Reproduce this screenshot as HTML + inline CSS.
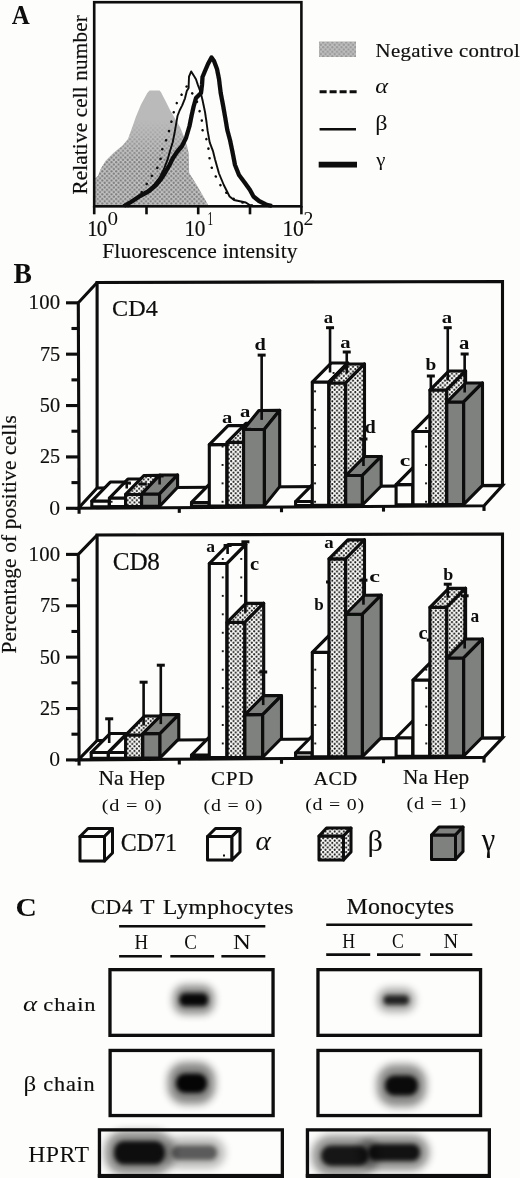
<!DOCTYPE html>
<html><head><meta charset="utf-8"><title>Figure</title>
<style>html,body{margin:0;padding:0;background:#fdfdfb;width:520px;height:1178px;overflow:hidden}svg{display:block}
text{font-family:"Liberation Serif",serif}</style></head>
<body><svg width="520" height="1178" viewBox="0 0 520 1178"><rect x="0" y="0" width="520" height="1178" fill="#fdfdfb"/>
<defs>
<pattern id="stip" patternUnits="userSpaceOnUse" width="4.6" height="4.6">
  <rect width="4.6" height="4.6" fill="#fdfdfb"/>
  <circle cx="1.15" cy="1.15" r="1.05" fill="#111"/>
  <circle cx="3.45" cy="3.45" r="1.05" fill="#111"/>
</pattern>
<pattern id="gstip" patternUnits="userSpaceOnUse" width="4.6" height="4.6">
  <rect width="4.6" height="4.6" fill="#c2c2c2"/>
  <circle cx="1.15" cy="1.15" r="1.1" fill="#7c7c7c"/>
  <circle cx="3.45" cy="3.45" r="1.1" fill="#7c7c7c"/>
</pattern>
<pattern id="sparse4" patternUnits="userSpaceOnUse" x="221.6" y="482.4" width="18.5" height="18.4">
  <rect width="18.5" height="18.4" fill="#fdfdfb"/>
  <rect x="0" y="0" width="1.9" height="1.9" fill="#111"/>
</pattern>
<pattern id="sparse8" patternUnits="userSpaceOnUse" x="221.8" y="742.5" width="18.5" height="18.45">
  <rect width="18.5" height="18.45" fill="#fdfdfb"/>
  <rect x="0" y="0" width="1.9" height="1.9" fill="#111"/>
</pattern>
<linearGradient id="stfade" x1="0" y1="0" x2="0" y2="1">
  <stop offset="0" stop-color="#fff" stop-opacity="0"/>
  <stop offset="1" stop-color="#fff" stop-opacity="1"/>
</linearGradient>
<mask id="stmask" maskUnits="userSpaceOnUse" x="0" y="0" width="520" height="260">
  <rect x="0" y="120" width="320" height="40" fill="url(#stfade)"/>
  <rect x="0" y="160" width="320" height="60" fill="#fff"/>
</mask>
<filter id="blur3" x="-50%" y="-80%" width="200%" height="260%"><feGaussianBlur stdDeviation="3"/></filter>
<filter id="blur4" x="-50%" y="-80%" width="200%" height="260%"><feGaussianBlur stdDeviation="4"/></filter>
<filter id="bc" x="-50%" y="-80%" width="200%" height="260%"><feGaussianBlur stdDeviation="2.3"/></filter>
<filter id="bh" x="-50%" y="-80%" width="200%" height="260%"><feGaussianBlur stdDeviation="4.5"/></filter>
<filter id="blur2" x="-50%" y="-80%" width="200%" height="260%"><feGaussianBlur stdDeviation="2"/></filter>
<filter id="gb" x="0" y="0" width="520" height="1178" filterUnits="userSpaceOnUse"><feGaussianBlur stdDeviation="0.4"/></filter></defs><g filter="url(#gb)">
<path d="M95.40,205.20 L95.40,178.00 L98.00,176.00 L101.00,168.50 L105.80,160.80 L113.50,153.00 L122.70,145.40 L128.00,139.00 L132.00,128.00 L135.80,117.00 L141.00,104.60 L147.30,93.00 L149.60,90.50 L159.60,90.50 L161.00,92.30 L165.80,101.50 L170.40,110.80 L175.00,118.50 L180.00,127.00 L184.00,137.00 L187.00,146.00 L188.60,153.00 L189.10,173.00 L196.00,184.00 L203.00,196.00 L208.20,205.20 Z" fill="#bababa"/>
<path d="M95.40,205.20 L95.40,178.00 L98.00,176.00 L101.00,168.50 L105.80,160.80 L113.50,153.00 L122.70,145.40 L128.00,139.00 L132.00,128.00 L135.80,117.00 L141.00,104.60 L147.30,93.00 L149.60,90.50 L159.60,90.50 L161.00,92.30 L165.80,101.50 L170.40,110.80 L175.00,118.50 L180.00,127.00 L184.00,137.00 L187.00,146.00 L188.60,153.00 L189.10,173.00 L196.00,184.00 L203.00,196.00 L208.20,205.20 Z" fill="url(#gstip)" mask="url(#stmask)"/>
<path d="M128.00,206.00 L136.00,198.00 L143.50,190.40 L148.70,180.00 L154.00,173.00 L158.50,166.00 L160.80,158.00 L162.00,150.00 L165.00,143.00 L167.40,137.00 L170.00,127.50 L172.40,118.00 L174.80,108.00 L178.50,99.00 L182.10,94.00 L184.30,89.20 L187.00,86.00 L190.00,90.00 L194.00,96.00 L197.50,103.00 L199.40,110.40 L201.80,120.10 L202.50,130.00 L206.60,139.70 L208.50,149.00 L209.60,158.70 L211.90,168.30 L216.50,178.00 L221.50,187.00 L229.60,196.50 L236.50,200.50 L244.00,203.00 L252.00,205.50" fill="none" stroke="#0b0b0b" stroke-width="2.5" stroke-linecap="round" stroke-dasharray="0.1 9.6"/>
<path d="M122.00,206.00 L134.00,200.00 L146.00,192.00 L153.00,186.00 L159.60,177.70 L164.20,168.50 L167.70,159.20 L170.00,151.00 L172.70,142.30 L174.80,131.70 L175.90,125.40 L177.50,116.00 L179.60,110.50 L182.20,105.30 L185.00,98.30 L186.80,91.00 L188.60,87.90 L189.00,76.60 L191.20,71.40 L193.40,74.90 L196.00,79.20 L197.70,84.40 L200.50,92.00 L202.50,100.00 L205.00,112.00 L206.50,122.00 L207.60,130.70 L209.70,142.30 L212.90,150.80 L215.00,159.30 L219.00,173.50 L223.80,185.00 L229.60,196.50 L234.00,200.00 L245.80,202.50 L249.00,204.60 L253.00,206.00" fill="none" stroke="#0b0b0b" stroke-width="1.9" stroke-linejoin="round"/>
<path d="M124.00,206.00 L131.00,202.00 L140.00,196.00 L149.00,191.00 L156.00,185.00 L161.00,179.00 L165.50,172.00 L169.50,165.00 L173.00,158.00 L177.00,152.00 L182.00,146.00 L186.00,138.00 L189.50,126.00 L191.50,116.00 L193.50,107.00 L196.00,98.00 L201.00,93.00 L202.00,85.00 L202.50,77.00 L205.00,71.00 L208.00,64.00 L211.50,57.50 L214.00,61.00 L217.00,69.00 L219.00,79.00 L220.70,93.00 L223.00,105.00 L225.30,118.00 L227.30,130.00 L230.00,140.00 L232.50,152.00 L235.00,165.00 L239.00,175.00 L245.00,183.00 L250.00,190.00 L253.50,196.50 L259.00,201.00 L266.00,204.50 L272.00,206.00" fill="none" stroke="#0b0b0b" stroke-width="4.3" stroke-linejoin="round"/>
<rect x="94.2" y="2.2" width="207.2" height="204.1" fill="none" stroke="#0b0b0b" stroke-width="2.6"/>
<line x1="94.2" y1="206" x2="94.2" y2="214.3" stroke="#0b0b0b" stroke-width="2.6"/>
<line x1="146.5" y1="206" x2="146.5" y2="214.3" stroke="#0b0b0b" stroke-width="2.6"/>
<line x1="198.2" y1="206" x2="198.2" y2="214.3" stroke="#0b0b0b" stroke-width="2.6"/>
<line x1="250" y1="206" x2="250" y2="214.3" stroke="#0b0b0b" stroke-width="2.6"/>
<line x1="301.4" y1="206" x2="301.4" y2="214.3" stroke="#0b0b0b" stroke-width="2.6"/>
<rect x="319" y="41.6" width="37" height="15.4" fill="#b8b8b8"/>
<rect x="319" y="41.6" width="37" height="15.4" fill="url(#gstip)" opacity="0.55"/>
<line x1="319.6" y1="91.8" x2="357" y2="91.8" stroke="#0b0b0b" stroke-width="3" stroke-dasharray="7 3"/>
<line x1="319.6" y1="129.2" x2="356" y2="129.2" stroke="#0b0b0b" stroke-width="2.4"/>
<line x1="318.7" y1="164.6" x2="357" y2="164.6" stroke="#0b0b0b" stroke-width="5.6"/>
<path d="M78.30,508.30 L78.30,302.80 L97.10,282.50 L502.50,281.53 L502.50,485.44 L484.00,505.74 L78.30,508.30 Z" fill="#fdfdfb" stroke="none"/>
<path d="M97.10,488.00 L97.10,282.50 L502.50,281.53 L502.50,485.44" fill="none" stroke="#0b0b0b" stroke-width="3.1" stroke-linejoin="miter"/>
<path d="M78.30,508.30 L97.10,488.00 L502.50,485.44 L484.00,505.74 Z" fill="none" stroke="#0b0b0b" stroke-width="3.1" stroke-linejoin="miter"/>
<path d="M79.10,513.80 L78.30,302.80 L97.10,282.50" fill="none" stroke="#0b0b0b" stroke-width="3.1" stroke-linejoin="miter"/>
<line x1="66" y1="508.30" x2="78.3" y2="508.30" stroke="#0b0b0b" stroke-width="3.1"/>
<line x1="66" y1="456.93" x2="78.3" y2="456.93" stroke="#0b0b0b" stroke-width="3.1"/>
<line x1="66" y1="405.55" x2="78.3" y2="405.55" stroke="#0b0b0b" stroke-width="3.1"/>
<line x1="66" y1="354.18" x2="78.3" y2="354.18" stroke="#0b0b0b" stroke-width="3.1"/>
<line x1="66" y1="302.80" x2="78.3" y2="302.80" stroke="#0b0b0b" stroke-width="3.1"/>
<line x1="71.5" y1="482.61" x2="78.3" y2="482.61" stroke="#0b0b0b" stroke-width="3.1"/>
<line x1="71.5" y1="431.24" x2="78.3" y2="431.24" stroke="#0b0b0b" stroke-width="3.1"/>
<line x1="71.5" y1="379.86" x2="78.3" y2="379.86" stroke="#0b0b0b" stroke-width="3.1"/>
<line x1="71.5" y1="328.49" x2="78.3" y2="328.49" stroke="#0b0b0b" stroke-width="3.1"/>
<line x1="179.3" y1="507.66" x2="179.3" y2="512.86" stroke="#0b0b0b" stroke-width="3.1"/>
<line x1="281.5" y1="507.02" x2="281.5" y2="512.22" stroke="#0b0b0b" stroke-width="3.1"/>
<line x1="383.5" y1="506.38" x2="383.5" y2="511.58" stroke="#0b0b0b" stroke-width="3.1"/>
<line x1="484.0" y1="505.74" x2="484.0" y2="510.94" stroke="#0b0b0b" stroke-width="3.1"/>
<path d="M91.80,506.71 L91.80,501.06 L109.40,500.94 L109.40,506.60 Z" fill="#fdfdfb" stroke="#0b0b0b" stroke-width="3.1" stroke-linejoin="round"/>
<path d="M91.80,501.06 L110.30,482.06 L127.90,481.94 L109.40,500.94 Z" fill="#fdfdfb" stroke="#0b0b0b" stroke-width="3.1" stroke-linejoin="round"/>
<path d="M109.40,506.60 L109.40,500.94 L127.90,481.94 L127.90,487.60 Z" fill="#fdfdfb" stroke="#0b0b0b" stroke-width="3.1" stroke-linejoin="round"/>
<path d="M109.40,506.60 L109.40,498.05 L125.60,497.95 L125.60,506.50 Z" fill="url(#sparse4)" stroke="#0b0b0b" stroke-width="3.1" stroke-linejoin="round"/>
<path d="M109.40,498.05 L127.90,479.05 L144.10,478.95 L125.60,497.95 Z" fill="url(#sparse4)" stroke="#0b0b0b" stroke-width="3.1" stroke-linejoin="round"/>
<path d="M125.60,506.50 L125.60,497.95 L144.10,478.95 L144.10,487.50 Z" fill="url(#sparse4)" stroke="#0b0b0b" stroke-width="3.1" stroke-linejoin="round"/>
<line x1="126.75" y1="488.50" x2="126.75" y2="483.00" stroke="#0b0b0b" stroke-width="2.6"/>
<line x1="122.75" y1="483.00" x2="130.75" y2="483.00" stroke="#0b0b0b" stroke-width="3"/>
<path d="M125.60,506.50 L125.60,494.45 L141.60,494.35 L141.60,506.40 Z" fill="url(#stip)" stroke="#0b0b0b" stroke-width="3.1" stroke-linejoin="round"/>
<path d="M125.60,494.45 L144.10,475.45 L160.10,475.35 L141.60,494.35 Z" fill="url(#stip)" stroke="#0b0b0b" stroke-width="3.1" stroke-linejoin="round"/>
<path d="M141.60,506.40 L141.60,494.35 L160.10,475.35 L160.10,487.40 Z" fill="url(#stip)" stroke="#0b0b0b" stroke-width="3.1" stroke-linejoin="round"/>
<line x1="142.85" y1="484.90" x2="142.85" y2="484.00" stroke="#0b0b0b" stroke-width="2.6"/>
<line x1="138.85" y1="484.00" x2="146.85" y2="484.00" stroke="#0b0b0b" stroke-width="3"/>
<path d="M141.60,506.40 L141.60,494.06 L159.60,493.94 L159.60,506.29 Z" fill="#7f817f" stroke="#0b0b0b" stroke-width="3.1" stroke-linejoin="round"/>
<path d="M141.60,494.06 L159.60,475.06 L177.60,474.94 L159.60,493.94 Z" fill="#7f817f" stroke="#0b0b0b" stroke-width="3.1" stroke-linejoin="round"/>
<path d="M159.60,506.29 L159.60,493.94 L177.60,474.94 L177.60,487.29 Z" fill="#7f817f" stroke="#0b0b0b" stroke-width="3.1" stroke-linejoin="round"/>
<line x1="159.60" y1="484.50" x2="159.60" y2="476.00" stroke="#0b0b0b" stroke-width="2.6"/>
<line x1="155.60" y1="476.00" x2="163.60" y2="476.00" stroke="#0b0b0b" stroke-width="3"/>
<path d="M191.50,506.08 L191.50,502.46 L209.30,502.34 L209.30,505.97 Z" fill="#fdfdfb" stroke="#0b0b0b" stroke-width="3.1" stroke-linejoin="round"/>
<path d="M191.50,502.46 L210.30,483.46 L228.10,483.34 L209.30,502.34 Z" fill="#fdfdfb" stroke="#0b0b0b" stroke-width="3.1" stroke-linejoin="round"/>
<path d="M209.30,505.97 L209.30,502.34 L228.10,483.34 L228.10,486.97 Z" fill="#fdfdfb" stroke="#0b0b0b" stroke-width="3.1" stroke-linejoin="round"/>
<path d="M209.30,505.97 L209.30,444.66 L227.10,444.54 L227.10,505.86 Z" fill="url(#sparse4)" stroke="#0b0b0b" stroke-width="3.1" stroke-linejoin="round"/>
<path d="M209.30,444.66 L228.10,425.66 L245.90,425.54 L227.10,444.54 Z" fill="url(#sparse4)" stroke="#0b0b0b" stroke-width="3.1" stroke-linejoin="round"/>
<path d="M227.10,505.86 L227.10,444.54 L245.90,425.54 L245.90,486.86 Z" fill="url(#sparse4)" stroke="#0b0b0b" stroke-width="3.1" stroke-linejoin="round"/>
<path d="M227.10,505.86 L227.10,442.36 L244.90,442.24 L244.90,505.75 Z" fill="url(#stip)" stroke="#0b0b0b" stroke-width="3.1" stroke-linejoin="round"/>
<path d="M227.10,442.36 L245.90,423.36 L263.70,423.24 L244.90,442.24 Z" fill="url(#stip)" stroke="#0b0b0b" stroke-width="3.1" stroke-linejoin="round"/>
<path d="M244.90,505.75 L244.90,442.24 L263.70,423.24 L263.70,486.75 Z" fill="url(#stip)" stroke="#0b0b0b" stroke-width="3.1" stroke-linejoin="round"/>
<path d="M243.60,505.76 L243.60,429.47 L264.40,429.33 L264.40,505.63 Z" fill="#7f817f" stroke="#0b0b0b" stroke-width="3.1" stroke-linejoin="round"/>
<path d="M243.60,429.47 L258.90,410.47 L279.70,410.33 L264.40,429.33 Z" fill="#7f817f" stroke="#0b0b0b" stroke-width="3.1" stroke-linejoin="round"/>
<path d="M264.40,505.63 L264.40,429.33 L279.70,410.33 L279.70,486.63 Z" fill="#7f817f" stroke="#0b0b0b" stroke-width="3.1" stroke-linejoin="round"/>
<line x1="261.65" y1="419.90" x2="261.65" y2="355.10" stroke="#0b0b0b" stroke-width="2.6"/>
<line x1="257.65" y1="355.10" x2="265.65" y2="355.10" stroke="#0b0b0b" stroke-width="3"/>
<path d="M295.60,505.43 L295.60,501.55 L312.30,501.45 L312.30,505.32 Z" fill="#fdfdfb" stroke="#0b0b0b" stroke-width="3.1" stroke-linejoin="round"/>
<path d="M295.60,501.55 L314.40,482.55 L331.10,482.45 L312.30,501.45 Z" fill="#fdfdfb" stroke="#0b0b0b" stroke-width="3.1" stroke-linejoin="round"/>
<path d="M312.30,505.32 L312.30,501.45 L331.10,482.45 L331.10,486.32 Z" fill="#fdfdfb" stroke="#0b0b0b" stroke-width="3.1" stroke-linejoin="round"/>
<path d="M312.30,505.32 L312.30,382.05 L329.00,381.95 L329.00,505.22 Z" fill="url(#sparse4)" stroke="#0b0b0b" stroke-width="3.1" stroke-linejoin="round"/>
<path d="M312.30,382.05 L331.10,363.05 L347.80,362.95 L329.00,381.95 Z" fill="url(#sparse4)" stroke="#0b0b0b" stroke-width="3.1" stroke-linejoin="round"/>
<path d="M329.00,505.22 L329.00,381.95 L347.80,362.95 L347.80,486.22 Z" fill="url(#sparse4)" stroke="#0b0b0b" stroke-width="3.1" stroke-linejoin="round"/>
<line x1="330.05" y1="372.50" x2="330.05" y2="327.70" stroke="#0b0b0b" stroke-width="2.6"/>
<line x1="326.05" y1="327.70" x2="334.05" y2="327.70" stroke="#0b0b0b" stroke-width="3"/>
<path d="M329.00,505.22 L329.00,383.05 L345.70,382.95 L345.70,505.11 Z" fill="url(#stip)" stroke="#0b0b0b" stroke-width="3.1" stroke-linejoin="round"/>
<path d="M329.00,383.05 L347.80,364.05 L364.50,363.95 L345.70,382.95 Z" fill="url(#stip)" stroke="#0b0b0b" stroke-width="3.1" stroke-linejoin="round"/>
<path d="M345.70,505.11 L345.70,382.95 L364.50,363.95 L364.50,486.11 Z" fill="url(#stip)" stroke="#0b0b0b" stroke-width="3.1" stroke-linejoin="round"/>
<line x1="346.75" y1="373.50" x2="346.75" y2="352.00" stroke="#0b0b0b" stroke-width="2.6"/>
<line x1="342.75" y1="352.00" x2="350.75" y2="352.00" stroke="#0b0b0b" stroke-width="3"/>
<path d="M345.70,505.11 L345.70,475.55 L362.40,475.45 L362.40,505.01 Z" fill="#7f817f" stroke="#0b0b0b" stroke-width="3.1" stroke-linejoin="round"/>
<path d="M345.70,475.55 L364.50,456.55 L381.20,456.45 L362.40,475.45 Z" fill="#7f817f" stroke="#0b0b0b" stroke-width="3.1" stroke-linejoin="round"/>
<path d="M362.40,505.01 L362.40,475.45 L381.20,456.45 L381.20,486.01 Z" fill="#7f817f" stroke="#0b0b0b" stroke-width="3.1" stroke-linejoin="round"/>
<line x1="363.45" y1="466.00" x2="363.45" y2="439.00" stroke="#0b0b0b" stroke-width="2.6"/>
<line x1="359.45" y1="439.00" x2="367.45" y2="439.00" stroke="#0b0b0b" stroke-width="3"/>
<path d="M396.10,504.80 L396.10,484.65 L413.00,484.55 L413.00,504.69 Z" fill="#fdfdfb" stroke="#0b0b0b" stroke-width="3.1" stroke-linejoin="round"/>
<path d="M396.10,484.65 L414.90,465.65 L431.80,465.55 L413.00,484.55 Z" fill="#fdfdfb" stroke="#0b0b0b" stroke-width="3.1" stroke-linejoin="round"/>
<path d="M413.00,504.69 L413.00,484.55 L431.80,465.55 L431.80,485.69 Z" fill="#fdfdfb" stroke="#0b0b0b" stroke-width="3.1" stroke-linejoin="round"/>
<path d="M413.00,504.69 L413.00,431.55 L429.90,431.45 L429.90,504.58 Z" fill="url(#sparse4)" stroke="#0b0b0b" stroke-width="3.1" stroke-linejoin="round"/>
<path d="M413.00,431.55 L431.80,412.55 L448.70,412.45 L429.90,431.45 Z" fill="url(#sparse4)" stroke="#0b0b0b" stroke-width="3.1" stroke-linejoin="round"/>
<path d="M429.90,504.58 L429.90,431.45 L448.70,412.45 L448.70,485.58 Z" fill="url(#sparse4)" stroke="#0b0b0b" stroke-width="3.1" stroke-linejoin="round"/>
<line x1="430.85" y1="422.00" x2="430.85" y2="376.00" stroke="#0b0b0b" stroke-width="2.6"/>
<line x1="426.85" y1="376.00" x2="434.85" y2="376.00" stroke="#0b0b0b" stroke-width="3"/>
<path d="M429.90,504.58 L429.90,390.05 L446.80,389.95 L446.80,504.48 Z" fill="url(#stip)" stroke="#0b0b0b" stroke-width="3.1" stroke-linejoin="round"/>
<path d="M429.90,390.05 L448.70,371.05 L465.60,370.95 L446.80,389.95 Z" fill="url(#stip)" stroke="#0b0b0b" stroke-width="3.1" stroke-linejoin="round"/>
<path d="M446.80,504.48 L446.80,389.95 L465.60,370.95 L465.60,485.48 Z" fill="url(#stip)" stroke="#0b0b0b" stroke-width="3.1" stroke-linejoin="round"/>
<line x1="447.75" y1="380.50" x2="447.75" y2="327.70" stroke="#0b0b0b" stroke-width="2.6"/>
<line x1="443.75" y1="327.70" x2="451.75" y2="327.70" stroke="#0b0b0b" stroke-width="3"/>
<path d="M446.80,504.48 L446.80,402.05 L463.70,401.95 L463.70,504.37 Z" fill="#7f817f" stroke="#0b0b0b" stroke-width="3.1" stroke-linejoin="round"/>
<path d="M446.80,402.05 L465.60,383.05 L482.50,382.95 L463.70,401.95 Z" fill="#7f817f" stroke="#0b0b0b" stroke-width="3.1" stroke-linejoin="round"/>
<path d="M463.70,504.37 L463.70,401.95 L482.50,382.95 L482.50,485.37 Z" fill="#7f817f" stroke="#0b0b0b" stroke-width="3.1" stroke-linejoin="round"/>
<line x1="464.65" y1="392.50" x2="464.65" y2="354.00" stroke="#0b0b0b" stroke-width="2.6"/>
<line x1="460.65" y1="354.00" x2="468.65" y2="354.00" stroke="#0b0b0b" stroke-width="3"/>
<path d="M78.30,759.90 L78.30,554.40 L97.10,535.00 L502.50,534.03 L502.50,737.94 L484.00,757.34 L78.30,759.90 Z" fill="#fdfdfb" stroke="none"/>
<path d="M97.10,740.50 L97.10,535.00 L502.50,534.03 L502.50,737.94" fill="none" stroke="#0b0b0b" stroke-width="3.1" stroke-linejoin="miter"/>
<path d="M78.30,759.90 L97.10,740.50 L502.50,737.94 L484.00,757.34 Z" fill="none" stroke="#0b0b0b" stroke-width="3.1" stroke-linejoin="miter"/>
<path d="M79.10,765.40 L78.30,554.40 L97.10,535.00" fill="none" stroke="#0b0b0b" stroke-width="3.1" stroke-linejoin="miter"/>
<line x1="66" y1="759.90" x2="78.3" y2="759.90" stroke="#0b0b0b" stroke-width="3.1"/>
<line x1="66" y1="708.52" x2="78.3" y2="708.52" stroke="#0b0b0b" stroke-width="3.1"/>
<line x1="66" y1="657.15" x2="78.3" y2="657.15" stroke="#0b0b0b" stroke-width="3.1"/>
<line x1="66" y1="605.77" x2="78.3" y2="605.77" stroke="#0b0b0b" stroke-width="3.1"/>
<line x1="66" y1="554.40" x2="78.3" y2="554.40" stroke="#0b0b0b" stroke-width="3.1"/>
<line x1="71.5" y1="734.21" x2="78.3" y2="734.21" stroke="#0b0b0b" stroke-width="3.1"/>
<line x1="71.5" y1="682.84" x2="78.3" y2="682.84" stroke="#0b0b0b" stroke-width="3.1"/>
<line x1="71.5" y1="631.46" x2="78.3" y2="631.46" stroke="#0b0b0b" stroke-width="3.1"/>
<line x1="71.5" y1="580.09" x2="78.3" y2="580.09" stroke="#0b0b0b" stroke-width="3.1"/>
<line x1="179.3" y1="759.26" x2="179.3" y2="764.46" stroke="#0b0b0b" stroke-width="3.1"/>
<line x1="281.5" y1="758.62" x2="281.5" y2="763.82" stroke="#0b0b0b" stroke-width="3.1"/>
<line x1="383.5" y1="757.98" x2="383.5" y2="763.18" stroke="#0b0b0b" stroke-width="3.1"/>
<line x1="484.0" y1="757.34" x2="484.0" y2="762.54" stroke="#0b0b0b" stroke-width="3.1"/>
<path d="M91.20,758.32 L91.20,752.55 L108.40,752.45 L108.40,758.21 Z" fill="#fdfdfb" stroke="#0b0b0b" stroke-width="3.1" stroke-linejoin="round"/>
<path d="M91.20,752.55 L110.00,733.55 L127.20,733.45 L108.40,752.45 Z" fill="#fdfdfb" stroke="#0b0b0b" stroke-width="3.1" stroke-linejoin="round"/>
<path d="M108.40,758.21 L108.40,752.45 L127.20,733.45 L127.20,739.21 Z" fill="#fdfdfb" stroke="#0b0b0b" stroke-width="3.1" stroke-linejoin="round"/>
<line x1="109.20" y1="743.00" x2="109.20" y2="718.80" stroke="#0b0b0b" stroke-width="2.6"/>
<line x1="105.20" y1="718.80" x2="113.20" y2="718.80" stroke="#0b0b0b" stroke-width="3"/>
<path d="M108.40,758.21 L108.40,752.55 L125.60,752.45 L125.60,758.10 Z" fill="url(#sparse8)" stroke="#0b0b0b" stroke-width="3.1" stroke-linejoin="round"/>
<path d="M108.40,752.55 L127.20,733.55 L144.40,733.45 L125.60,752.45 Z" fill="url(#sparse8)" stroke="#0b0b0b" stroke-width="3.1" stroke-linejoin="round"/>
<path d="M125.60,758.10 L125.60,752.45 L144.40,733.45 L144.40,739.10 Z" fill="url(#sparse8)" stroke="#0b0b0b" stroke-width="3.1" stroke-linejoin="round"/>
<path d="M125.60,758.10 L125.60,735.05 L142.80,734.95 L142.80,757.99 Z" fill="url(#stip)" stroke="#0b0b0b" stroke-width="3.1" stroke-linejoin="round"/>
<path d="M125.60,735.05 L144.40,716.05 L161.60,715.95 L142.80,734.95 Z" fill="url(#stip)" stroke="#0b0b0b" stroke-width="3.1" stroke-linejoin="round"/>
<path d="M142.80,757.99 L142.80,734.95 L161.60,715.95 L161.60,738.99 Z" fill="url(#stip)" stroke="#0b0b0b" stroke-width="3.1" stroke-linejoin="round"/>
<line x1="143.60" y1="725.50" x2="143.60" y2="682.20" stroke="#0b0b0b" stroke-width="2.6"/>
<line x1="139.60" y1="682.20" x2="147.60" y2="682.20" stroke="#0b0b0b" stroke-width="3"/>
<path d="M142.80,757.99 L142.80,733.65 L160.00,733.55 L160.00,757.88 Z" fill="#7f817f" stroke="#0b0b0b" stroke-width="3.1" stroke-linejoin="round"/>
<path d="M142.80,733.65 L161.60,714.65 L178.80,714.55 L160.00,733.55 Z" fill="#7f817f" stroke="#0b0b0b" stroke-width="3.1" stroke-linejoin="round"/>
<path d="M160.00,757.88 L160.00,733.55 L178.80,714.55 L178.80,738.88 Z" fill="#7f817f" stroke="#0b0b0b" stroke-width="3.1" stroke-linejoin="round"/>
<line x1="160.80" y1="724.10" x2="160.80" y2="665.20" stroke="#0b0b0b" stroke-width="2.6"/>
<line x1="156.80" y1="665.20" x2="164.80" y2="665.20" stroke="#0b0b0b" stroke-width="3"/>
<path d="M191.50,757.68 L191.50,755.06 L209.30,754.94 L209.30,757.57 Z" fill="#fdfdfb" stroke="#0b0b0b" stroke-width="3.1" stroke-linejoin="round"/>
<path d="M191.50,755.06 L210.30,736.06 L228.10,735.94 L209.30,754.94 Z" fill="#fdfdfb" stroke="#0b0b0b" stroke-width="3.1" stroke-linejoin="round"/>
<path d="M209.30,757.57 L209.30,754.94 L228.10,735.94 L228.10,738.57 Z" fill="#fdfdfb" stroke="#0b0b0b" stroke-width="3.1" stroke-linejoin="round"/>
<path d="M209.30,757.57 L209.30,563.56 L227.10,563.44 L227.10,757.46 Z" fill="url(#sparse8)" stroke="#0b0b0b" stroke-width="3.1" stroke-linejoin="round"/>
<path d="M209.30,563.56 L228.10,544.56 L245.90,544.44 L227.10,563.44 Z" fill="url(#sparse8)" stroke="#0b0b0b" stroke-width="3.1" stroke-linejoin="round"/>
<path d="M227.10,757.46 L227.10,563.44 L245.90,544.44 L245.90,738.46 Z" fill="url(#sparse8)" stroke="#0b0b0b" stroke-width="3.1" stroke-linejoin="round"/>
<line x1="227.60" y1="554.00" x2="227.60" y2="545.50" stroke="#0b0b0b" stroke-width="2.6"/>
<line x1="223.60" y1="545.50" x2="231.60" y2="545.50" stroke="#0b0b0b" stroke-width="3"/>
<path d="M227.10,757.46 L227.10,622.36 L244.90,622.24 L244.90,757.35 Z" fill="url(#stip)" stroke="#0b0b0b" stroke-width="3.1" stroke-linejoin="round"/>
<path d="M227.10,622.36 L245.90,603.36 L263.70,603.24 L244.90,622.24 Z" fill="url(#stip)" stroke="#0b0b0b" stroke-width="3.1" stroke-linejoin="round"/>
<path d="M244.90,757.35 L244.90,622.24 L263.70,603.24 L263.70,738.35 Z" fill="url(#stip)" stroke="#0b0b0b" stroke-width="3.1" stroke-linejoin="round"/>
<line x1="245.40" y1="612.80" x2="245.40" y2="541.80" stroke="#0b0b0b" stroke-width="2.6"/>
<line x1="241.40" y1="541.80" x2="249.40" y2="541.80" stroke="#0b0b0b" stroke-width="3"/>
<path d="M244.90,757.35 L244.90,714.66 L262.70,714.54 L262.70,757.24 Z" fill="#7f817f" stroke="#0b0b0b" stroke-width="3.1" stroke-linejoin="round"/>
<path d="M244.90,714.66 L263.70,695.66 L281.50,695.54 L262.70,714.54 Z" fill="#7f817f" stroke="#0b0b0b" stroke-width="3.1" stroke-linejoin="round"/>
<path d="M262.70,757.24 L262.70,714.54 L281.50,695.54 L281.50,738.24 Z" fill="#7f817f" stroke="#0b0b0b" stroke-width="3.1" stroke-linejoin="round"/>
<line x1="263.20" y1="705.10" x2="263.20" y2="672.00" stroke="#0b0b0b" stroke-width="2.6"/>
<line x1="259.20" y1="672.00" x2="267.20" y2="672.00" stroke="#0b0b0b" stroke-width="3"/>
<path d="M295.60,757.03 L295.60,752.75 L312.30,752.65 L312.30,756.92 Z" fill="#fdfdfb" stroke="#0b0b0b" stroke-width="3.1" stroke-linejoin="round"/>
<path d="M295.60,752.75 L314.40,733.75 L331.10,733.65 L312.30,752.65 Z" fill="#fdfdfb" stroke="#0b0b0b" stroke-width="3.1" stroke-linejoin="round"/>
<path d="M312.30,756.92 L312.30,752.65 L331.10,733.65 L331.10,737.92 Z" fill="#fdfdfb" stroke="#0b0b0b" stroke-width="3.1" stroke-linejoin="round"/>
<path d="M312.30,756.92 L312.30,652.35 L329.00,652.25 L329.00,756.82 Z" fill="url(#sparse8)" stroke="#0b0b0b" stroke-width="3.1" stroke-linejoin="round"/>
<path d="M312.30,652.35 L331.10,633.35 L347.80,633.25 L329.00,652.25 Z" fill="url(#sparse8)" stroke="#0b0b0b" stroke-width="3.1" stroke-linejoin="round"/>
<path d="M329.00,756.82 L329.00,652.25 L347.80,633.25 L347.80,737.82 Z" fill="url(#sparse8)" stroke="#0b0b0b" stroke-width="3.1" stroke-linejoin="round"/>
<line x1="330.05" y1="642.80" x2="330.05" y2="582.00" stroke="#0b0b0b" stroke-width="2.6"/>
<line x1="326.05" y1="582.00" x2="334.05" y2="582.00" stroke="#0b0b0b" stroke-width="3"/>
<path d="M329.00,756.82 L329.00,558.85 L345.70,558.75 L345.70,756.71 Z" fill="url(#stip)" stroke="#0b0b0b" stroke-width="3.1" stroke-linejoin="round"/>
<path d="M329.00,558.85 L347.80,539.85 L364.50,539.75 L345.70,558.75 Z" fill="url(#stip)" stroke="#0b0b0b" stroke-width="3.1" stroke-linejoin="round"/>
<path d="M345.70,756.71 L345.70,558.75 L364.50,539.75 L364.50,737.71 Z" fill="url(#stip)" stroke="#0b0b0b" stroke-width="3.1" stroke-linejoin="round"/>
<path d="M345.70,756.71 L345.70,614.25 L362.40,614.15 L362.40,756.61 Z" fill="#7f817f" stroke="#0b0b0b" stroke-width="3.1" stroke-linejoin="round"/>
<path d="M345.70,614.25 L364.50,595.25 L381.20,595.15 L362.40,614.15 Z" fill="#7f817f" stroke="#0b0b0b" stroke-width="3.1" stroke-linejoin="round"/>
<path d="M362.40,756.61 L362.40,614.15 L381.20,595.15 L381.20,737.61 Z" fill="#7f817f" stroke="#0b0b0b" stroke-width="3.1" stroke-linejoin="round"/>
<line x1="363.45" y1="604.70" x2="363.45" y2="580.20" stroke="#0b0b0b" stroke-width="2.6"/>
<line x1="359.45" y1="580.20" x2="367.45" y2="580.20" stroke="#0b0b0b" stroke-width="3"/>
<path d="M396.10,756.40 L396.10,737.75 L413.00,737.65 L413.00,756.29 Z" fill="#fdfdfb" stroke="#0b0b0b" stroke-width="3.1" stroke-linejoin="round"/>
<path d="M396.10,737.75 L414.90,718.75 L431.80,718.65 L413.00,737.65 Z" fill="#fdfdfb" stroke="#0b0b0b" stroke-width="3.1" stroke-linejoin="round"/>
<path d="M413.00,756.29 L413.00,737.65 L431.80,718.65 L431.80,737.29 Z" fill="#fdfdfb" stroke="#0b0b0b" stroke-width="3.1" stroke-linejoin="round"/>
<path d="M413.00,756.29 L413.00,680.05 L429.90,679.95 L429.90,756.18 Z" fill="url(#sparse8)" stroke="#0b0b0b" stroke-width="3.1" stroke-linejoin="round"/>
<path d="M413.00,680.05 L431.80,661.05 L448.70,660.95 L429.90,679.95 Z" fill="url(#sparse8)" stroke="#0b0b0b" stroke-width="3.1" stroke-linejoin="round"/>
<path d="M429.90,756.18 L429.90,679.95 L448.70,660.95 L448.70,737.18 Z" fill="url(#sparse8)" stroke="#0b0b0b" stroke-width="3.1" stroke-linejoin="round"/>
<line x1="430.85" y1="670.50" x2="430.85" y2="640.00" stroke="#0b0b0b" stroke-width="2.6"/>
<line x1="426.85" y1="640.00" x2="434.85" y2="640.00" stroke="#0b0b0b" stroke-width="3"/>
<path d="M429.90,756.18 L429.90,607.35 L446.80,607.25 L446.80,756.08 Z" fill="url(#stip)" stroke="#0b0b0b" stroke-width="3.1" stroke-linejoin="round"/>
<path d="M429.90,607.35 L448.70,588.35 L465.60,588.25 L446.80,607.25 Z" fill="url(#stip)" stroke="#0b0b0b" stroke-width="3.1" stroke-linejoin="round"/>
<path d="M446.80,756.08 L446.80,607.25 L465.60,588.25 L465.60,737.08 Z" fill="url(#stip)" stroke="#0b0b0b" stroke-width="3.1" stroke-linejoin="round"/>
<line x1="447.75" y1="597.80" x2="447.75" y2="584.20" stroke="#0b0b0b" stroke-width="2.6"/>
<line x1="443.75" y1="584.20" x2="451.75" y2="584.20" stroke="#0b0b0b" stroke-width="3"/>
<path d="M446.80,756.08 L446.80,658.05 L463.70,657.95 L463.70,755.97 Z" fill="#7f817f" stroke="#0b0b0b" stroke-width="3.1" stroke-linejoin="round"/>
<path d="M446.80,658.05 L465.60,639.05 L482.50,638.95 L463.70,657.95 Z" fill="#7f817f" stroke="#0b0b0b" stroke-width="3.1" stroke-linejoin="round"/>
<path d="M463.70,755.97 L463.70,657.95 L482.50,638.95 L482.50,736.97 Z" fill="#7f817f" stroke="#0b0b0b" stroke-width="3.1" stroke-linejoin="round"/>
<line x1="464.65" y1="648.50" x2="464.65" y2="595.80" stroke="#0b0b0b" stroke-width="2.6"/>
<line x1="460.65" y1="595.80" x2="468.65" y2="595.80" stroke="#0b0b0b" stroke-width="3"/>
<path d="M80.00,836.50 L104.50,836.50 L104.50,861.00 L80.00,861.00 Z" fill="#fdfdfb" stroke="#0b0b0b" stroke-width="3" stroke-linejoin="round"/>
<path d="M80.00,836.50 L88.00,828.50 L112.50,828.50 L104.50,836.50 Z" fill="#fdfdfb" stroke="#0b0b0b" stroke-width="3" stroke-linejoin="round"/>
<path d="M104.50,836.50 L112.50,828.50 L112.50,853.00 L104.50,861.00 Z" fill="#fdfdfb" stroke="#0b0b0b" stroke-width="3" stroke-linejoin="round"/>
<path d="M207.50,836.50 L232.00,836.50 L232.00,860.00 L207.50,860.00 Z" fill="#fdfdfb" stroke="#0b0b0b" stroke-width="3" stroke-linejoin="round"/>
<path d="M207.50,836.50 L215.50,828.50 L240.00,828.50 L232.00,836.50 Z" fill="#fdfdfb" stroke="#0b0b0b" stroke-width="3" stroke-linejoin="round"/>
<path d="M232.00,836.50 L240.00,828.50 L240.00,852.00 L232.00,860.00 Z" fill="#fdfdfb" stroke="#0b0b0b" stroke-width="3" stroke-linejoin="round"/>
<rect x="223" y="854.5" width="2" height="2" fill="#0b0b0b"/>
<path d="M319.00,836.00 L343.50,836.00 L343.50,860.00 L319.00,860.00 Z" fill="url(#stip)" stroke="#0b0b0b" stroke-width="3" stroke-linejoin="round"/>
<path d="M319.00,836.00 L326.50,828.00 L351.00,828.00 L343.50,836.00 Z" fill="url(#stip)" stroke="#0b0b0b" stroke-width="3" stroke-linejoin="round"/>
<path d="M343.50,836.00 L351.00,828.00 L351.00,852.00 L343.50,860.00 Z" fill="url(#stip)" stroke="#0b0b0b" stroke-width="3" stroke-linejoin="round"/>
<path d="M431.50,835.00 L455.50,835.00 L455.50,859.50 L431.50,859.50 Z" fill="#7f817f" stroke="#0b0b0b" stroke-width="3" stroke-linejoin="round"/>
<path d="M431.50,835.00 L439.00,827.00 L463.00,827.00 L455.50,835.00 Z" fill="#7f817f" stroke="#0b0b0b" stroke-width="3" stroke-linejoin="round"/>
<path d="M455.50,835.00 L463.00,827.00 L463.00,851.50 L455.50,859.50 Z" fill="#7f817f" stroke="#0b0b0b" stroke-width="3" stroke-linejoin="round"/>
<line x1="119.1" y1="926.2" x2="265.3" y2="926.2" stroke="#0b0b0b" stroke-width="2.6"/>
<line x1="326.2" y1="924.8" x2="472.3" y2="924.8" stroke="#0b0b0b" stroke-width="2.6"/>
<line x1="119.1" y1="956.3" x2="161.9" y2="956.3" stroke="#0b0b0b" stroke-width="2.6"/>
<line x1="170.3" y1="956.3" x2="214.1" y2="956.3" stroke="#0b0b0b" stroke-width="2.6"/>
<line x1="221.4" y1="956.3" x2="265.3" y2="956.3" stroke="#0b0b0b" stroke-width="2.6"/>
<line x1="326.2" y1="954.6" x2="370.2" y2="954.6" stroke="#0b0b0b" stroke-width="2.6"/>
<line x1="377" y1="954.6" x2="420.4" y2="954.6" stroke="#0b0b0b" stroke-width="2.6"/>
<line x1="430" y1="954.6" x2="472.3" y2="954.6" stroke="#0b0b0b" stroke-width="2.6"/>
<rect x="173.5" y="985.3" width="40.5" height="28.700000000000045" rx="11.5" fill="#000" opacity="0.475" filter="url(#bh)"/>
<rect x="179.5" y="993.3" width="28.5" height="12.700000000000045" rx="5.5" fill="#000" opacity="0.95" filter="url(#bc)"/>
<rect x="168" y="1062.5" width="47" height="41.5" rx="17" fill="#000" opacity="0.485" filter="url(#bh)"/>
<rect x="176" y="1073.5" width="31" height="19.5" rx="9" fill="#000" opacity="0.97" filter="url(#bc)"/>
<rect x="377.5" y="988.3" width="37.5" height="23.5" rx="10.5" fill="#000" opacity="0.360" filter="url(#bh)"/>
<rect x="383.5" y="995.3" width="25.5" height="9.5" rx="4.5" fill="#000" opacity="0.8" filter="url(#bc)"/>
<rect x="377" y="1064.5" width="49" height="42.0" rx="17.5" fill="#000" opacity="0.465" filter="url(#bh)"/>
<rect x="385" y="1075.5" width="33" height="20.0" rx="9.5" fill="#000" opacity="0.93" filter="url(#bc)"/>
<rect x="105" y="1131" width="69" height="43.5" rx="19" fill="#000" opacity="0.450" filter="url(#bh)"/>
<rect x="114" y="1141" width="51" height="23.5" rx="10" fill="#000" opacity="0.9" filter="url(#bc)"/>
<rect x="164" y="1137.5" width="61" height="30.5" rx="15" fill="#000" opacity="0.275" filter="url(#bh)"/>
<rect x="172" y="1145.5" width="45" height="14.5" rx="7" fill="#000" opacity="0.5" filter="url(#bc)"/>
<rect x="312" y="1135.5" width="66" height="40.5" rx="19" fill="#000" opacity="0.425" filter="url(#bh)"/>
<rect x="321" y="1145.5" width="48" height="20.5" rx="10" fill="#000" opacity="0.85" filter="url(#bc)"/>
<rect x="359" y="1135" width="70" height="35" rx="17" fill="#000" opacity="0.440" filter="url(#bh)"/>
<rect x="368" y="1144" width="52" height="17" rx="8" fill="#000" opacity="0.88" filter="url(#bc)"/>
<rect x="109.95" y="969.65" width="163.09999999999997" height="65.7" fill="none" stroke="#0b0b0b" stroke-width="3.3"/>
<rect x="317.95" y="969.65" width="162.59999999999997" height="65.7" fill="none" stroke="#0b0b0b" stroke-width="3.3"/>
<rect x="110.15" y="1050.45" width="163.0" height="65.1000000000001" fill="none" stroke="#0b0b0b" stroke-width="3.3"/>
<rect x="317.95" y="1050.45" width="162.59999999999997" height="65.1000000000001" fill="none" stroke="#0b0b0b" stroke-width="3.3"/>
<rect x="99.45" y="1129.8500000000001" width="182.89999999999998" height="45.7" fill="none" stroke="#0b0b0b" stroke-width="3.3"/>
<rect x="97.8" y="1174" width="186.2" height="4" fill="#0b0b0b"/>
<rect x="307.45" y="1129.8500000000001" width="181.89999999999998" height="45.7" fill="none" stroke="#0b0b0b" stroke-width="3.3"/>
<rect x="305.8" y="1174" width="185.2" height="4" fill="#0b0b0b"/>
<text transform="translate(88.8,236.4) scale(0.9394,1)" x="-1.77" y="0" font-family="Liberation Serif" font-weight="normal" font-size="22.12" letter-spacing="-0.846" fill="#0d0d0d" stroke="#0d0d0d" stroke-width="0.18">10</text>
<text transform="translate(108.2,225.3) scale(1.0984,1)" x="-0.58" y="0" font-family="Liberation Serif" font-weight="normal" font-size="19.24" fill="#0d0d0d" stroke="#0d0d0d" stroke-width="0">0</text>
<text transform="translate(186.3,236.4) scale(0.9638,1)" x="-1.77" y="0" font-family="Liberation Serif" font-weight="normal" font-size="22.12" letter-spacing="-0.493" fill="#0d0d0d" stroke="#0d0d0d" stroke-width="0.18">10</text>
<text transform="translate(208.3,225.3) scale(0.5774,1)" x="-1.54" y="0" font-family="Liberation Serif" font-weight="normal" font-size="19.24" fill="#0d0d0d" stroke="#0d0d0d" stroke-width="0">1</text>
<text transform="translate(284.2,236.4) scale(0.9821,1)" x="-1.77" y="0" font-family="Liberation Serif" font-weight="normal" font-size="22.12" letter-spacing="-0.239" fill="#0d0d0d" stroke="#0d0d0d" stroke-width="0.18">10</text>
<text transform="translate(304.4,225.3) scale(1.0267,1)" x="-0.77" y="0" font-family="Liberation Serif" font-weight="normal" font-size="19.24" fill="#0d0d0d" stroke="#0d0d0d" stroke-width="0">2</text>
<text transform="translate(102.7,258.2) scale(1.0261,1)" x="-0.42" y="0" font-family="Liberation Serif" font-weight="normal" font-size="20.87" letter-spacing="0.151" fill="#0d0d0d" stroke="#0d0d0d" stroke-width="0.18">Fluorescence intensity</text>
<text transform="translate(87.2,194.2) rotate(-90) translate(0,0) scale(1.0282,1)" x="-0.41" y="0" font-family="Liberation Serif" font-weight="normal" font-size="20.58" letter-spacing="0.165" fill="#0d0d0d" stroke="#0d0d0d" stroke-width="0.18">Relative cell number</text>
<text transform="translate(11.7,23.9) scale(0.8869,1)" x="0.00" y="0" font-family="Liberation Serif" font-weight="bold" font-size="28.03" fill="#0d0d0d" stroke="#0d0d0d" stroke-width="0">A</text>
<text transform="translate(376,57.2) scale(1.0569,1)" x="-0.39" y="0" font-family="Liberation Serif" font-weight="normal" font-size="19.71" letter-spacing="0.314" fill="#0d0d0d" stroke="#0d0d0d" stroke-width="0.18">Negative control</text>
<text transform="translate(375.7,92.6) scale(1.1215,1)" x="-0.43" y="0" font-family="Liberation Serif" font-weight="normal" font-style="italic" font-size="21.70" fill="#0d0d0d" stroke="#0d0d0d" stroke-width="0">α</text>
<text transform="translate(376.8,129.7) scale(1.1421,1)" x="-1.27" y="0" font-family="Liberation Serif" font-weight="normal" font-size="21.14" fill="#0d0d0d" stroke="#0d0d0d" stroke-width="0">β</text>
<text transform="translate(376.1,165.8) scale(1.1611,1)" x="0.18" y="0" font-family="Liberation Serif" font-weight="normal" font-size="17.83" fill="#0d0d0d" stroke="#0d0d0d" stroke-width="0">γ</text>
<text transform="translate(222.5,422.6) scale(1.1983,1)" x="-0.52" y="0" font-family="Liberation Serif" font-weight="bold" font-size="17.23" fill="#0d0d0d" stroke="#0d0d0d" stroke-width="0">a</text>
<text transform="translate(240.7,416.5) scale(1.1983,1)" x="-0.52" y="0" font-family="Liberation Serif" font-weight="bold" font-size="17.23" fill="#0d0d0d" stroke="#0d0d0d" stroke-width="0">a</text>
<text transform="translate(255.4,350) scale(1.2563,1)" x="-0.65" y="0" font-family="Liberation Serif" font-weight="bold" font-size="16.23" fill="#0d0d0d" stroke="#0d0d0d" stroke-width="0">d</text>
<text transform="translate(324.4,323.4) scale(1.1265,1)" x="-0.50" y="0" font-family="Liberation Serif" font-weight="bold" font-size="16.60" fill="#0d0d0d" stroke="#0d0d0d" stroke-width="0">a</text>
<text transform="translate(340.9,347.6) scale(1.2444,1)" x="-0.50" y="0" font-family="Liberation Serif" font-weight="bold" font-size="16.60" fill="#0d0d0d" stroke="#0d0d0d" stroke-width="0">a</text>
<text transform="translate(365.6,433.2) scale(1.0122,1)" x="-0.78" y="0" font-family="Liberation Serif" font-weight="bold" font-size="19.57" fill="#0d0d0d" stroke="#0d0d0d" stroke-width="0">d</text>
<text transform="translate(400.4,465.8) scale(1.3521,1)" x="-0.52" y="0" font-family="Liberation Serif" font-weight="bold" font-size="17.45" fill="#0d0d0d" stroke="#0d0d0d" stroke-width="0">c</text>
<text transform="translate(425.6,370) scale(1.0979,1)" x="-0.18" y="0" font-family="Liberation Serif" font-weight="bold" font-size="17.68" fill="#0d0d0d" stroke="#0d0d0d" stroke-width="0">b</text>
<text transform="translate(442.4,322.5) scale(1.2575,1)" x="-0.50" y="0" font-family="Liberation Serif" font-weight="bold" font-size="16.60" fill="#0d0d0d" stroke="#0d0d0d" stroke-width="0">a</text>
<text transform="translate(459.7,349.3) scale(1.1555,1)" x="-0.54" y="0" font-family="Liberation Serif" font-weight="bold" font-size="17.87" fill="#0d0d0d" stroke="#0d0d0d" stroke-width="0">a</text>
<text transform="translate(206.7,551.5) scale(1.0345,1)" x="-0.51" y="0" font-family="Liberation Serif" font-weight="bold" font-size="17.02" fill="#0d0d0d" stroke="#0d0d0d" stroke-width="0">a</text>
<text transform="translate(250.5,570.4) scale(1.1477,1)" x="-0.54" y="0" font-family="Liberation Serif" font-weight="bold" font-size="17.87" fill="#0d0d0d" stroke="#0d0d0d" stroke-width="0">c</text>
<text transform="translate(324.9,548.2) scale(1.1396,1)" x="-0.50" y="0" font-family="Liberation Serif" font-weight="bold" font-size="16.60" fill="#0d0d0d" stroke="#0d0d0d" stroke-width="0">a</text>
<text transform="translate(314.5,609.6) scale(1.0147,1)" x="-0.17" y="0" font-family="Liberation Serif" font-weight="bold" font-size="16.81" fill="#0d0d0d" stroke="#0d0d0d" stroke-width="0">b</text>
<text transform="translate(370,582) scale(1.4712,1)" x="-0.49" y="0" font-family="Liberation Serif" font-weight="bold" font-size="16.38" fill="#0d0d0d" stroke="#0d0d0d" stroke-width="0">c</text>
<text transform="translate(419,638.5) scale(1.1342,1)" x="-0.54" y="0" font-family="Liberation Serif" font-weight="bold" font-size="18.09" fill="#0d0d0d" stroke="#0d0d0d" stroke-width="0">c</text>
<text transform="translate(443.5,579.6) scale(1.0730,1)" x="-0.17" y="0" font-family="Liberation Serif" font-weight="bold" font-size="16.81" fill="#0d0d0d" stroke="#0d0d0d" stroke-width="0">b</text>
<text transform="translate(471,622) scale(0.9616,1)" x="-0.54" y="0" font-family="Liberation Serif" font-weight="bold" font-size="18.09" fill="#0d0d0d" stroke="#0d0d0d" stroke-width="0">a</text>
<text transform="translate(50.0,514.7) scale(1.0827,1)" x="-0.60" y="0" font-family="Liberation Serif" font-weight="normal" font-size="20.15" fill="#0d0d0d" stroke="#0d0d0d" stroke-width="0">0</text>
<text transform="translate(40.8,463.325) scale(1.0019,1)" x="-0.81" y="0" font-family="Liberation Serif" font-weight="normal" font-size="20.15" letter-spacing="0.024" fill="#0d0d0d" stroke="#0d0d0d" stroke-width="0.18">25</text>
<text transform="translate(40.8,411.95) scale(1.0084,1)" x="-1.01" y="0" font-family="Liberation Serif" font-weight="normal" font-size="20.15" letter-spacing="0.103" fill="#0d0d0d" stroke="#0d0d0d" stroke-width="0.18">50</text>
<text transform="translate(41.1,360.575) scale(0.9961,1)" x="-1.23" y="0" font-family="Liberation Serif" font-weight="normal" font-size="20.46" letter-spacing="-0.048" fill="#0d0d0d" stroke="#0d0d0d" stroke-width="0.18">75</text>
<text transform="translate(30.200000000000003,309.2) scale(1.0298,1)" x="-1.61" y="0" font-family="Liberation Serif" font-weight="normal" font-size="20.15" letter-spacing="0.270" fill="#0d0d0d" stroke="#0d0d0d" stroke-width="0.18">100</text>
<text transform="translate(50.0,766.3000000000001) scale(1.0827,1)" x="-0.60" y="0" font-family="Liberation Serif" font-weight="normal" font-size="20.15" fill="#0d0d0d" stroke="#0d0d0d" stroke-width="0">0</text>
<text transform="translate(40.8,714.9250000000001) scale(1.0019,1)" x="-0.81" y="0" font-family="Liberation Serif" font-weight="normal" font-size="20.15" letter-spacing="0.024" fill="#0d0d0d" stroke="#0d0d0d" stroke-width="0.18">25</text>
<text transform="translate(40.8,663.5500000000001) scale(1.0084,1)" x="-1.01" y="0" font-family="Liberation Serif" font-weight="normal" font-size="20.15" letter-spacing="0.103" fill="#0d0d0d" stroke="#0d0d0d" stroke-width="0.18">50</text>
<text transform="translate(41.1,612.1750000000001) scale(0.9961,1)" x="-1.23" y="0" font-family="Liberation Serif" font-weight="normal" font-size="20.46" letter-spacing="-0.048" fill="#0d0d0d" stroke="#0d0d0d" stroke-width="0.18">75</text>
<text transform="translate(30.200000000000003,560.8000000000001) scale(1.0298,1)" x="-1.61" y="0" font-family="Liberation Serif" font-weight="normal" font-size="20.15" letter-spacing="0.270" fill="#0d0d0d" stroke="#0d0d0d" stroke-width="0.18">100</text>
<text transform="translate(113,316.2) scale(1.0092,1)" x="-0.96" y="0" font-family="Liberation Serif" font-weight="normal" font-size="23.94" letter-spacing="0.133" fill="#0d0d0d" stroke="#0d0d0d" stroke-width="0.18">CD4</text>
<text transform="translate(113.8,569.6) scale(0.9848,1)" x="-1.02" y="0" font-family="Liberation Serif" font-weight="normal" font-size="25.61" letter-spacing="-0.240" fill="#0d0d0d" stroke="#0d0d0d" stroke-width="0.18">CD8</text>
<text transform="translate(13.8,282.7) scale(0.9113,1)" x="-0.30" y="0" font-family="Liberation Serif" font-weight="bold" font-size="30.31" fill="#0d0d0d" stroke="#0d0d0d" stroke-width="0">B</text>
<text transform="translate(15.7,653) rotate(-90) translate(0,0) scale(1.0338,1)" x="-0.41" y="0" font-family="Liberation Serif" font-weight="normal" font-size="20.56" letter-spacing="0.182" fill="#0d0d0d" stroke="#0d0d0d" stroke-width="0.18">Percentage of positive cells</text>
<text transform="translate(98.8,785.4) scale(1.0027,1)" x="-0.43" y="0" font-family="Liberation Serif" font-weight="normal" font-size="21.54" letter-spacing="0.024" fill="#0d0d0d" stroke="#0d0d0d" stroke-width="0.18">Na Hep</text>
<text transform="translate(102.5,810.9) scale(1.1547,1)" x="-0.70" y="0" font-family="Liberation Serif" font-weight="normal" font-size="17.57" letter-spacing="0.692" fill="#0d0d0d" stroke="#0d0d0d" stroke-width="0">(d = 0)</text>
<text transform="translate(211.8,785.2) scale(1.0684,1)" x="-0.79" y="0" font-family="Liberation Serif" font-weight="normal" font-size="19.70" letter-spacing="0.787" fill="#0d0d0d" stroke="#0d0d0d" stroke-width="0.18">CPD</text>
<text transform="translate(204.4,810.5) scale(1.1439,1)" x="-0.70" y="0" font-family="Liberation Serif" font-weight="normal" font-size="17.43" letter-spacing="0.645" fill="#0d0d0d" stroke="#0d0d0d" stroke-width="0">(d = 0)</text>
<text transform="translate(313.5,784.6) scale(1.0349,1)" x="0.00" y="0" font-family="Liberation Serif" font-weight="normal" font-size="19.55" letter-spacing="0.456" fill="#0d0d0d" stroke="#0d0d0d" stroke-width="0.18">ACD</text>
<text transform="translate(306,810.1) scale(1.1514,1)" x="-0.69" y="0" font-family="Liberation Serif" font-weight="normal" font-size="17.29" letter-spacing="0.668" fill="#0d0d0d" stroke="#0d0d0d" stroke-width="0">(d = 0)</text>
<text transform="translate(403.5,783.8) scale(1.0157,1)" x="-0.42" y="0" font-family="Liberation Serif" font-weight="normal" font-size="20.92" letter-spacing="0.131" fill="#0d0d0d" stroke="#0d0d0d" stroke-width="0.18">Na Hep</text>
<text transform="translate(407.3,808.5) scale(1.1543,1)" x="-0.70" y="0" font-family="Liberation Serif" font-weight="normal" font-size="17.43" letter-spacing="0.685" fill="#0d0d0d" stroke="#0d0d0d" stroke-width="0">(d = 1)</text>
<text transform="translate(121.7,851.3) scale(0.9756,1)" x="-0.98" y="0" font-family="Liberation Serif" font-weight="normal" font-size="24.55" letter-spacing="-0.313" fill="#0d0d0d" stroke="#0d0d0d" stroke-width="0.18">CD71</text>
<text transform="translate(256,850.4) scale(1.0493,1)" x="-0.56" y="0" font-family="Liberation Serif" font-weight="normal" font-style="italic" font-size="27.87" fill="#0d0d0d" stroke="#0d0d0d" stroke-width="0">α</text>
<text transform="translate(369.3,850.8) scale(0.9986,1)" x="-1.82" y="0" font-family="Liberation Serif" font-weight="normal" font-size="30.29" fill="#0d0d0d" stroke="#0d0d0d" stroke-width="0">β</text>
<text transform="translate(481.5,850.5) scale(0.9281,1)" x="0.33" y="0" font-family="Liberation Serif" font-weight="normal" font-size="32.83" fill="#0d0d0d" stroke="#0d0d0d" stroke-width="0">γ</text>
<text transform="translate(16.6,916) scale(1.1257,1)" x="-1.05" y="0" font-family="Liberation Serif" font-weight="bold" font-size="26.21" fill="#0d0d0d" stroke="#0d0d0d" stroke-width="0">C</text>
<text transform="translate(91.5,914.2) scale(1.0366,1)" x="-0.84" y="0" font-family="Liberation Serif" font-weight="normal" font-size="20.91" letter-spacing="0.452" fill="#0d0d0d" stroke="#0d0d0d" stroke-width="0.18">CD4</text>
<text transform="translate(140.4,914.2) scale(1.1017,1)" x="-0.21" y="0" font-family="Liberation Serif" font-weight="normal" font-size="21.23" fill="#0d0d0d" stroke="#0d0d0d" stroke-width="0.15">T</text>
<text transform="translate(163.5,914.2) scale(1.1407,1)" x="-0.41" y="0" font-family="Liberation Serif" font-weight="normal" font-size="20.58" letter-spacing="0.339" fill="#0d0d0d" stroke="#0d0d0d" stroke-width="0.18">Lymphocytes</text>
<text transform="translate(347,913.5) scale(1.0499,1)" x="-0.46" y="0" font-family="Liberation Serif" font-weight="normal" font-size="22.77" letter-spacing="0.149" fill="#0d0d0d" stroke="#0d0d0d" stroke-width="0.18">Monocytes</text>
<text transform="translate(134.8,948.5) scale(0.8802,1)" x="-0.43" y="0" font-family="Liberation Serif" font-weight="normal" font-size="21.38" fill="#0d0d0d" stroke="#0d0d0d" stroke-width="0">H</text>
<text transform="translate(185,948.5) scale(0.9005,1)" x="-0.84" y="0" font-family="Liberation Serif" font-weight="normal" font-size="21.06" fill="#0d0d0d" stroke="#0d0d0d" stroke-width="0">C</text>
<text transform="translate(233.5,948.5) scale(1.1553,1)" x="-0.43" y="0" font-family="Liberation Serif" font-weight="normal" font-size="21.38" fill="#0d0d0d" stroke="#0d0d0d" stroke-width="0">N</text>
<text transform="translate(342.5,948.2) scale(0.8762,1)" x="-0.41" y="0" font-family="Liberation Serif" font-weight="normal" font-size="20.31" fill="#0d0d0d" stroke="#0d0d0d" stroke-width="0">H</text>
<text transform="translate(392.7,948.2) scale(0.8879,1)" x="-0.80" y="0" font-family="Liberation Serif" font-weight="normal" font-size="20.00" fill="#0d0d0d" stroke="#0d0d0d" stroke-width="0">C</text>
<text transform="translate(444,948.2) scale(0.9993,1)" x="-0.41" y="0" font-family="Liberation Serif" font-weight="normal" font-size="20.31" fill="#0d0d0d" stroke="#0d0d0d" stroke-width="0">N</text>
<text transform="translate(23.5,1011.3) scale(1.3255,1)" x="-0.40" y="0" font-family="Liberation Serif" font-weight="normal" font-style="italic" font-size="20.21" fill="#0d0d0d" stroke="#0d0d0d" stroke-width="0">α</text>
<text transform="translate(44,1011.3) scale(1.1293,1)" x="-0.60" y="0" font-family="Liberation Serif" font-weight="normal" font-size="19.86" letter-spacing="0.806" fill="#0d0d0d" stroke="#0d0d0d" stroke-width="0.18">chain</text>
<text transform="translate(25.1,1091) scale(1.1882,1)" x="-1.27" y="0" font-family="Liberation Serif" font-weight="normal" font-size="21.14" fill="#0d0d0d" stroke="#0d0d0d" stroke-width="0">β</text>
<text transform="translate(44,1091) scale(1.1128,1)" x="-0.60" y="0" font-family="Liberation Serif" font-weight="normal" font-size="20.00" letter-spacing="0.718" fill="#0d0d0d" stroke="#0d0d0d" stroke-width="0.18">chain</text>
<text transform="translate(28.6,1161.5) scale(1.0675,1)" x="-0.45" y="0" font-family="Liberation Serif" font-weight="normal" font-size="22.31" letter-spacing="0.497" fill="#0d0d0d" stroke="#0d0d0d" stroke-width="0">HPRT</text></g></svg></body></html>
